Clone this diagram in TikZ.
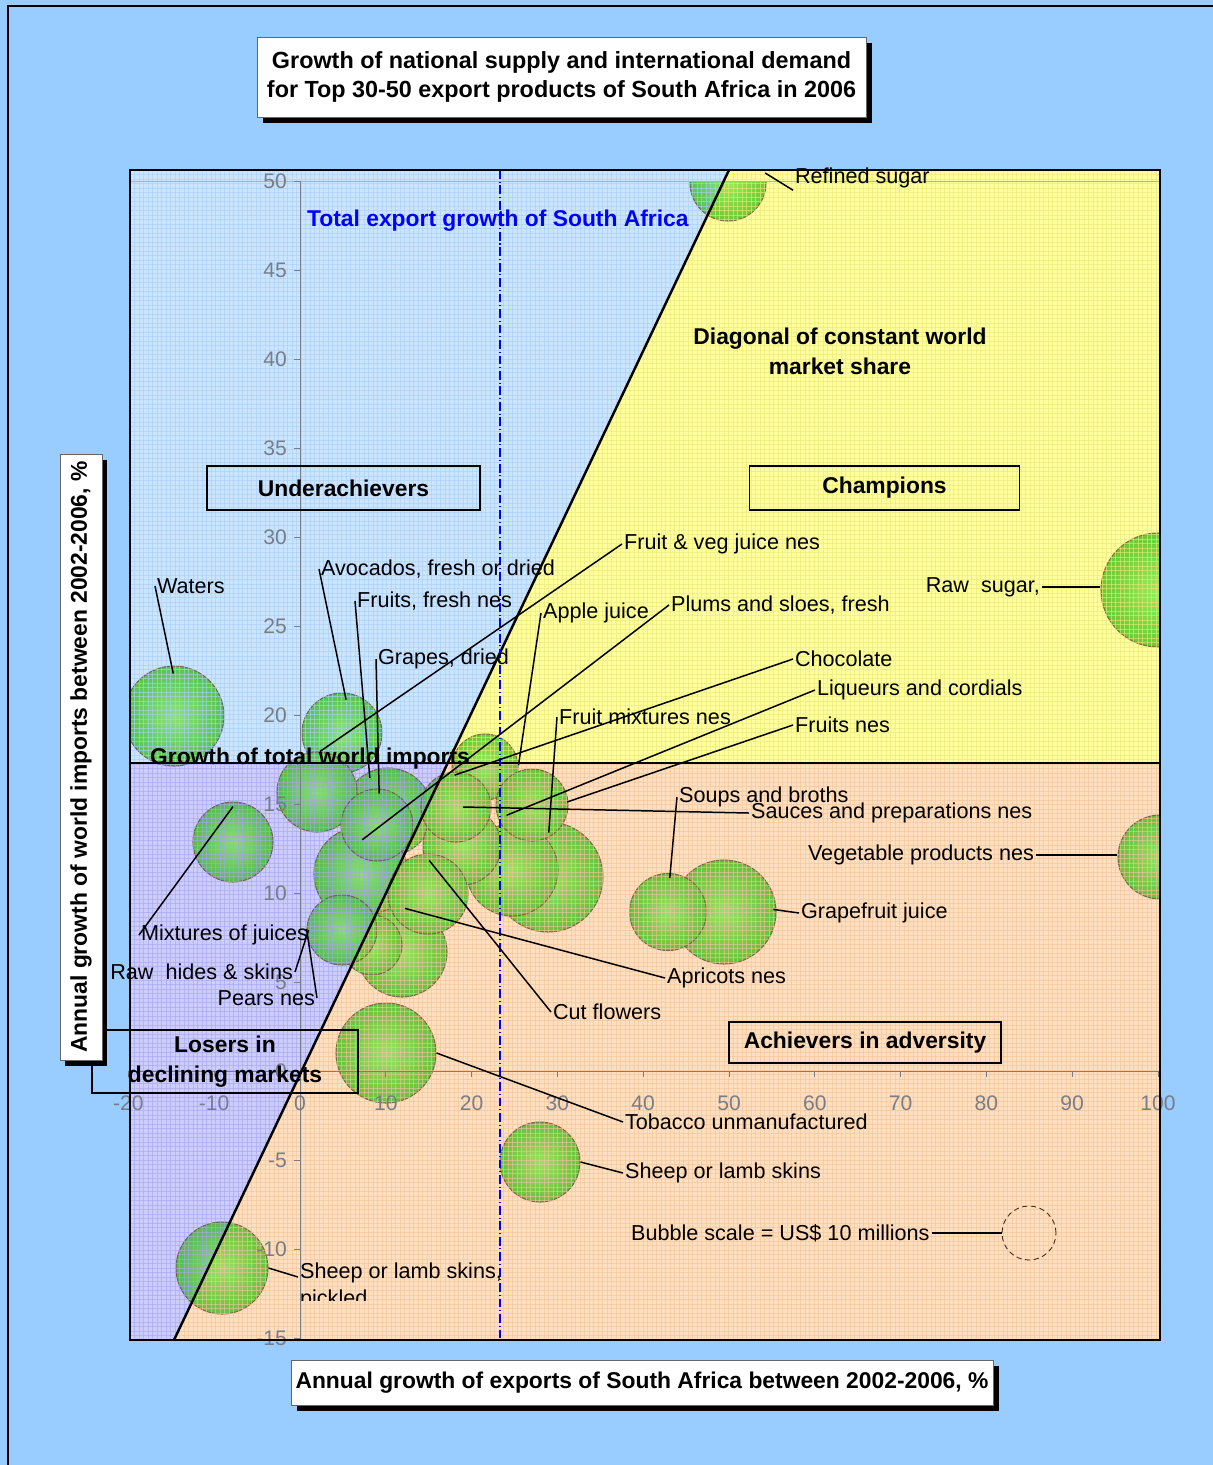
\documentclass[tikz,border=0pt]{standalone}
\usepackage{fontspec}
\setmainfont{Liberation Sans}
\usetikzlibrary{calc}
\definecolor{pagecol}{HTML}{99CCFF}
\definecolor{upcol}{HTML}{CCE5FF}
\definecolor{champcol}{HTML}{FFFF9E}
\definecolor{losecol}{HTML}{CCCCFF}
\definecolor{advcol}{HTML}{FFDFBF}
\definecolor{upgrid}{HTML}{A8CFF8}
\definecolor{champgrid}{HTML}{E8E878}
\definecolor{losegrid}{HTML}{A6A6F0}
\definecolor{advgrid}{HTML}{F0C49A}
\definecolor{bubcol}{HTML}{22B400}
\definecolor{bubhi}{HTML}{6EE23C}
\definecolor{bubedge}{HTML}{4A2A10}
\definecolor{tickcol}{HTML}{787E88}
\definecolor{sablue}{HTML}{0000FF}
\tikzset{
  lbl/.style     = {font=\fontsize{12.3}{15.3}\selectfont, inner sep=1pt, anchor=west},
  ticklbl/.style = {font=\fontsize{12}{14}\selectfont, text=tickcol, inner sep=1pt},
  boldlbl/.style = {font=\fontsize{13}{17}\selectfont\bfseries, inner sep=1pt, align=center},
  qbox/.style 2 args = {boldlbl, draw=black, line width=1.1pt,
                        minimum width=#1*0.02cm, minimum height=#2*0.02cm},
  titlebox/.style 2 args = {boldlbl, fill=white, draw=black!60, line width=0.4pt,
                        minimum width=#1*0.02cm, minimum height=#2*0.02cm,
                        preaction={fill=black, transform canvas={xshift=0.11cm, yshift=-0.11cm}}},
  bubble/.style  = {circle, inner sep=0pt, minimum size=#1*0.02cm, draw=bubedge,
                    line width=0.6pt, shade, inner color=bubhi, outer color=bubcol},
  leader/.style  = {draw=black, line width=0.85pt},
  divider/.style = {draw=black, line width=1.4pt},
  axisline/.style = {draw=tickcol, line width=0.5pt},
}
% grid texture of one quadrant, drawn over the bubbles
\newcommand{\quadgrid}[2]{%
  \begin{scope}
    \clip #1;
    \foreach \gx in {130,134.5,...,1160} \draw[#2, line width=0.25pt, draw opacity=0.6] (\gx,170) -- (\gx,1340);
    \foreach \gy in {170,174.5,...,1340} \draw[#2, line width=0.25pt, draw opacity=0.6] (130,\gy) -- (1160,\gy);
  \end{scope}}

\begin{document}
\begin{tikzpicture}[x=0.02cm, y=-0.02cm]

  %% ---------------- page ----------------
  \fill[pagecol] (0,0) rectangle (1213,1465);
  \useasboundingbox (0,0) rectangle (1213,1465);
  \draw[line width=0.9pt] (1213,6) -- (8,6) -- (8,1465);

  %% ---------------- quadrants ----------------
  \coordinate (ptl) at (130,170);
  \coordinate (ptr) at (1160,170);
  \coordinate (pbl) at (130,1340);
  \coordinate (pbr) at (1160,1340);
  \coordinate (dtop) at (729,170);
  \coordinate (dbot) at (174,1340);
  \coordinate (hl) at (130,763);
  \coordinate (hr) at (1160,763);
  \coordinate (hx) at (intersection of dtop--dbot and hl--hr);

  \fill[upcol]    (ptl) -- (dtop) -- (hx) -- (hl) -- cycle;
  \fill[champcol] (dtop) -- (ptr) -- (hr) -- (hx) -- cycle;
  \fill[losecol]  (hl) -- (hx) -- (dbot) -- (pbl) -- cycle;
  \fill[advcol]   (hx) -- (hr) -- (pbr) -- (dbot) -- cycle;

  %% ---------------- bubbles ----------------
  \begin{scope}
    \clip (130,181) rectangle (1160,1340);
    \begin{scope}[transparency group, opacity=0.68]
      \node[bubble=76]  (bRefined)   at (728,183)  {};
      \node[bubble=114] (bRawSugar)  at (1158,590) {};
      \node[bubble=84]  (bVeg)       at (1160,857) {};
      \node[bubble=100] (bWaters)    at (174,716)  {};
      \node[bubble=80]  (bAvocado)   at (342,733)  {};
      \node[bubble=88]  (bFreshNes)  at (388,812)  {};
      \node[bubble=80]  (bFruitVeg)  at (317,792)  {};
      \node[bubble=94]  (bPlums)     at (361,874)  {};
      \node[bubble=72]  (bGrapes)    at (377,825)  {};
      \node[bubble=80]  (bMixJuices) at (233,842)  {};
      \node[bubble=110] (bBig)       at (548,877)  {};
      \node[bubble=92]  (bMidB)      at (512,870)  {};
      \node[bubble=78]  (bMidA)      at (462,846)  {};
      \node[bubble=66]  (bApple)     at (485,767)  {};
      \node[bubble=70]  (bSauces)    at (456,807)  {};
      \node[bubble=72]  (bFruitsNes) at (532,805)  {};
      \node[bubble=90]  (bApricot)   at (402,952)  {};
      \node[bubble=60]  (bLowA)      at (372,945)  {};
      \node[bubble=70]  (bHides)     at (342,930)  {};
      \node[bubble=80]  (bCut)       at (428,894)  {};
      \node[bubble=104] (bGrapefruit) at (724,912) {};
      \node[bubble=77]  (bSoups)     at (668,912)  {};
      \node[bubble=100] (bTobacco)   at (386,1053) {};
      \node[bubble=80]  (bSheep)     at (540,1162) {};
      \node[bubble=92]  (bPickled)   at (222,1268) {};
    \end{scope}
  \end{scope}

  \quadgrid{(ptl) -- (dtop) -- (hx) -- (hl) -- cycle}{upgrid}
  \quadgrid{(dtop) -- (ptr) -- (hr) -- (hx) -- cycle}{champgrid}
  \quadgrid{(hl) -- (hx) -- (dbot) -- (pbl) -- cycle}{losegrid}
  \quadgrid{(hx) -- (hr) -- (pbr) -- (dbot) -- cycle}{advgrid}

  %% ---------------- axes ----------------
  \draw[axisline, draw=tickcol!60] (130,181) -- (1160,181);
  \draw[axisline] (300,181) -- (300,1340);
  \draw[axisline] (130,1071) -- (1160,1071);
  \foreach \v in {-15,-10,...,50}{
    \draw[axisline] (294,{1071-17.8*\v}) -- (300,{1071-17.8*\v});
    \node[ticklbl, anchor=east] (ytick\v) at (289,{1071-17.8*\v}) {\v};
  }
  \foreach \v in {-20,-10,...,100}{
    \draw[axisline] ({300+8.58*\v},1071) -- ({300+8.58*\v},1077);
    \node[ticklbl] (xtick\v) at ({300+8.58*\v},1103) {\v};
  }

  %% ---------------- dividers ----------------
  \node[boldlbl, anchor=west] (worldimp) at (148,759) {Growth of total world imports};
  \draw[divider] (hl) -- (hr);
  \draw[divider] (dbot) -- (dtop);
  \draw[sablue, line width=1pt, dash pattern=on 5pt off 1.6pt on 0.6pt off 1.6pt]
       (500,170) -- (500,1340);

  \node[boldlbl, text=sablue, anchor=west] (saexp) at (305,221)
       {Total export growth of South Africa};
  \node[boldlbl] (diag) at (840,351) {Diagonal of constant world\\market share};

  \node[qbox={273}{44}] (under) at (343.5,488) {Underachievers};
  \node[qbox={270}{44}] (champ) at (884.5,488) {Champions};
  \node[qbox={272}{41}] (achiev) at (865,1042.5) {Achievers in adversity};
  \node[qbox={266}{63}] (losers) at (225,1061.5) {Losers in\\declining markets};

  %% ---------------- product labels ----------------
  \node[lbl] (lRefined)   at (793,178)  {Refined sugar};
  \node[lbl] (lWaters)    at (155,586)  {Waters};
  \node[lbl] (lAvocado)   at (319,569)  {Avocados, fresh or dried};
  \node[lbl] (lFreshNes)  at (355,601)  {Fruits, fresh nes};
  \node[lbl] (lGrapes)    at (376,659)  {Grapes, dried};
  \node[lbl] (lFruitVeg)  at (622,544)  {Fruit \& veg juice nes};
  \node[lbl] (lApple)     at (541,613)  {Apple juice};
  \node[lbl] (lPlums)     at (669,605)  {Plums and sloes, fresh};
  \node[lbl, anchor=east] (lRawSugar) at (1042,587) {Raw\ \ sugar,};
  \node[lbl] (lChoc)      at (793,659)  {Chocolate};
  \node[lbl] (lLiqueur)   at (815,690)  {Liqueurs and cordials};
  \node[lbl] (lFruitMix)  at (557,717)  {Fruit mixtures nes};
  \node[lbl] (lFruitsNes) at (793,725)  {Fruits nes};
  \node[lbl] (lSoups)     at (677,797)  {Soups and broths};
  \node[lbl] (lSauces)    at (749,813)  {Sauces and preparations nes};
  \node[lbl, anchor=east] (lVeg) at (1036,855) {Vegetable products nes};
  \node[lbl] (lGrapefruit) at (799,913) {Grapefruit juice};
  \node[lbl] (lMixJuices) at (139,935)  {Mixtures of juices};
  \node[lbl, anchor=east] (lRawHides) at (295,972) {Raw\ \ hides \& skins};
  \node[lbl, anchor=east] (lPears) at (317,998) {Pears nes};
  \node[lbl] (lApricot)   at (665,978)  {Apricots nes};
  \node[lbl] (lCut)       at (551,1012) {Cut flowers};
  \node[lbl] (lTobacco)   at (623,1122) {Tobacco unmanufactured};
  \node[lbl] (lSheep)     at (623,1173) {Sheep or lamb skins};
  \node[lbl] (lScale)     at (629,1233) {Bubble scale = US\$ 10 millions};
  \node[circle, draw=bubedge, densely dashed, line width=0.5pt, minimum size=54*0.02cm]
       (bScale) at (1029,1233) {};
  \begin{scope}
    \clip (130,181) rectangle (1160,1300);
    \node[lbl, anchor=north west, align=left] (lPickled) at (298,1261)
         {Sheep or lamb skins,\\pickled};
  \end{scope}

  %% ---------------- leaders ----------------
  \draw[leader] (lRefined.south west) -- (bRefined.15);
  \draw[leader] (lWaters.west) -- ($(bWaters)!0.84!(bWaters.91)$);
  \draw[leader] (lAvocado.west) -- ($(bAvocado)!0.83!(bAvocado.83)$);
  \draw[leader] (lFreshNes.west) -- ($(bFreshNes)!0.87!(bFreshNes.118)$);
  \draw[leader] (lGrapes.west) -- ($(bGrapes)!0.86!(bGrapes.86)$);
  \draw[leader] (lFruitVeg.west) -- (bFruitVeg.86);
  \draw[leader] (lApple.west) -- (bApple.3);
  \draw[leader] (lPlums.west) -- ($(bPlums)!0.72!(bPlums.88)$);
  \draw[leader] (lRawSugar.east) -- (lRawSugar.east -| bRawSugar.west);
  \draw[leader] (lChoc.west) -- ($(bApple)!0.94!(bApple.195)$);
  \draw[leader] (lLiqueur.west) -- ($(bFruitsNes)!0.75!(bFruitsNes.202)$);
  \draw[leader] (lFruitMix.west) -- ($(bBig)!0.8!(bBig.89)$);
  \draw[leader] (lFruitsNes.west) -- ($(bFruitsNes)!0.97!(bFruitsNes.5)$);
  \draw[leader] (lSoups.west) -- ($(bSoups)!0.87!(bSoups.87)$);
  \draw[leader] (lSauces.west) -- ($(bSauces)!0.2!(bSauces.east)$);
  \draw[leader] (lVeg.east) -- (lVeg.east -| bVeg.west);
  \draw[leader] (lGrapefruit.west) -- ($(bGrapefruit)!0.94!(bGrapefruit.3)$);
  \draw[leader] (lMixJuices.west) -- ($(bMixJuices)!0.875!(bMixJuices.north)$);
  \draw[leader] (lRawHides.east) -- ($(bHides)!0.94!(bHides.west)$);
  \draw[leader] (lPears.east) -- (bHides.178);
  \draw[leader] (lApricot.west) -- ($(bApricot)!0.96!(bApricot.86)$);
  \draw[leader] (lCut.west) -- ($(bCut)!0.83!(bCut.88)$);
  \draw[leader] (lTobacco.west) -- (bTobacco.east);
  \draw[leader] (lSheep.west) -- (bSheep.east);
  \draw[leader] ($(lPickled.north west)+(0,16)$) -- (bPickled.east);
  \draw[leader] (lScale.east) -- (lScale.east -| bScale.west);

  %% ---------------- frame and titles ----------------
  \draw[line width=1.2pt] (ptl) rectangle (pbr);

  \node[titlebox={609}{80}] (title) at (561.5,77)
       {\fontsize{13.3}{18}\selectfont Growth of national supply and international demand\\
        \fontsize{13.3}{18}\selectfont for Top 30-50 export products of South Africa in 2006};
  \node[titlebox={702}{45}] (xtitle) at (642,1382.5)
       {Annual growth of exports of South Africa between 2002-2006, \%};
  \node[titlebox={606}{42}, rotate=90] (ytitle) at (81,757)
       {Annual growth of world imports between 2002-2006, \%};

\end{tikzpicture}
\end{document}
